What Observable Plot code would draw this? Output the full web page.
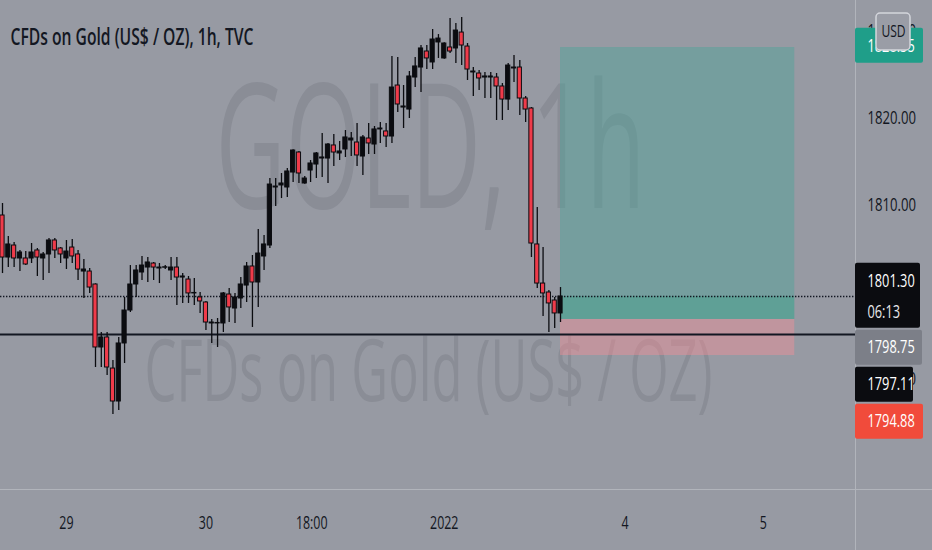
<!DOCTYPE html>
<html>
<head>
<meta charset="utf-8">
<script src="https://cdn.jsdelivr.net/npm/d3@7"></script>
<script src="https://cdn.jsdelivr.net/npm/@observablehq/plot@0.6"></script>
<style>
  html, body { margin: 0; padding: 0; background: #979aa3; }
  #chart svg { display: block; }
</style>
</head>
<body>
<div id="chart"></div>
<script>
// ---------------- data (hourly candles, TVC:GOLD) ----------------
const opens = [1808.85,1804.02,1805.40,1803.91,1803.91,1803.91,1804.83,1803.91,1804.37,1805.98,
1805.06,1803.91,1805.17,1804.37,1802.41,1802.41,1800.92,1793.68,1794.83,1791.26,
1787.47,1794.14,1797.93,1800.92,1802.30,1802.87,1803.33,1802.76,1802.85,1802.53,
1802.87,1801.72,1801.49,1799.89,1799.43,1798.85,1796.44,1796.44,1796.44,1799.77,
1798.16,1799.31,1800.80,1802.99,1801.15,1804.14,1805.40,1812.07,1812.30,1812.07,
1813.79,1816.09,1812.53,1814.02,1814.71,1815.40,1815.40,1816.90,1815.98,1816.44,
1817.47,1817.24,1815.63,1817.70,1817.01,1818.74,1818.51,1817.93,1823.79,1821.26,
1821.03,1824.71,1825.86,1827.70,1826.44,1828.74,1826.90,1828.16,1828.05,1829.88,
1828.27,1825.29,1825.17,1824.71,1824.71,1824.71,1823.68,1822.18,1825.75,1825.86,
1822.30,1821.15,1805.52,1801.03,1800.00,1799.08,1797.59];
const highs = [1810.23,1806.43,1805.75,1804.83,1804.71,1805.63,1805.06,1804.60,1806.20,1806.20,
1805.17,1805.98,1806.09,1804.83,1803.79,1802.76,1801.00,1795.40,1795.40,1792.18,
1794.83,1799.43,1803.10,1803.10,1804.14,1804.02,1803.45,1803.33,1803.10,1804.02,
1804.02,1802.18,1801.84,1801.61,1800.00,1798.97,1796.90,1797.01,1800.00,1800.46,
1799.89,1801.72,1803.45,1804.25,1807.24,1806.55,1813.10,1813.10,1813.68,1814.25,
1816.40,1816.20,1813.33,1815.17,1816.09,1818.28,1817.13,1818.16,1817.36,1818.62,
1818.39,1819.43,1818.05,1819.43,1819.08,1819.54,1819.43,1827.13,1827.01,1823.79,
1825.40,1827.01,1828.39,1828.39,1830.23,1829.65,1828.70,1831.49,1830.92,1831.61,
1828.62,1825.86,1825.52,1825.29,1825.29,1825.17,1824.02,1826.32,1827.24,1826.67,
1822.53,1821.26,1809.77,1805.17,1800.23,1799.43,1800.57];
const lows = [1802.18,1802.87,1802.87,1802.41,1803.10,1803.33,1801.84,1801.38,1802.18,1803.91,
1803.33,1802.64,1803.33,1801.38,1799.31,1799.89,1791.38,1791.38,1790.46,1785.98,
1786.44,1791.84,1797.70,1799.43,1801.38,1801.15,1801.38,1801.03,1802.64,1801.38,
1798.51,1798.74,1798.74,1798.51,1797.59,1795.63,1794.14,1793.68,1795.40,1796.55,
1796.44,1798.16,1798.85,1795.98,1798.28,1802.53,1805.06,1809.89,1810.80,1810.92,
1812.64,1812.53,1812.45,1812.64,1813.10,1813.22,1812.53,1814.48,1815.17,1815.52,
1815.63,1814.48,1813.45,1815.86,1815.86,1817.13,1816.67,1817.13,1820.69,1818.85,
1820.00,1823.56,1822.99,1825.63,1825.63,1826.90,1826.80,1827.47,1826.32,1826.09,
1824.37,1822.53,1823.22,1822.30,1822.30,1819.77,1819.77,1820.92,1824.14,1820.34,
1819.54,1804.02,1800.46,1797.24,1795.40,1795.86,1796.55];
const closes = [1804.02,1805.52,1803.91,1804.60,1803.22,1804.60,1804.02,1804.37,1805.98,1804.83,
1804.37,1804.71,1804.14,1802.64,1802.64,1800.57,1793.68,1794.83,1791.38,1787.47,
1794.14,1797.93,1800.92,1802.53,1803.10,1803.45,1802.87,1802.87,1802.90,1802.87,
1801.72,1801.84,1799.89,1799.95,1798.97,1796.55,1796.55,1796.50,1799.89,1798.28,
1799.43,1800.92,1802.99,1801.15,1804.48,1805.52,1812.41,1812.18,1812.53,1813.91,
1816.32,1813.68,1813.10,1814.83,1815.98,1815.52,1817.01,1816.09,1816.21,1817.82,
1817.70,1815.75,1817.82,1817.13,1818.74,1818.85,1817.93,1823.56,1821.61,1821.38,
1824.83,1825.98,1828.05,1826.90,1829.08,1829.19,1828.62,1827.70,1830.11,1828.39,
1825.63,1825.40,1824.60,1824.83,1824.83,1823.68,1822.18,1826.09,1825.86,1822.30,
1821.03,1805.63,1801.03,1799.89,1798.74,1797.59,1799.54];

const xTickBars   = [11, 35, 53.2, 76, 107.1, 130.9];
const xTickLabels = ["29", "30", "18:00", "2022", "4", "5"];
const yTicks = [1790, 1800, 1810, 1820, 1830];

const currentPrice = 1799.54;
const levelLine = 1795.17;
const positionTool = [{start: 96, end: 136.3, target: 1828.16, entry: 1796.90, stop: 1792.76}];

const titleText = "CFDs on Gold (US$ / OZ), 1h, TVC";
const watermarkMain = "GOLD, 1h";
const watermarkSub = "CFDs on Gold (US$ / OZ)";
const targetLabel = "1828.35", targetLabelValue = 1828.35;
const lastPriceLabel = "1801.30", lastPriceValue = 1801.30, countdownLabel = "06:13";
const stackedLabels = ["1798.75", "1797.11", "1794.88"];
const currencyLabel = "USD";

// ---------------- layout ----------------
const W = 932, H = 550, MR = 77, MB = 61;
const frameRight = W - MR, frameBottom = H - MB;
const xDomain = [-0.344, 146.75];
const yDomain = [1777.356, 1833.563];
const xs = Plot.scale({x: {domain: xDomain, range: [0, frameRight]}});
const ys = Plot.scale({y: {domain: yDomain, range: [frameBottom, 0]}});
const ink = "#131722";
const candleInk = "#0b0c10";
const bear = "#ef3b4a";

const candles = opens.map((o, i) => ({i, o, h: highs[i], l: lows[i], c: closes[i]}));

// price tags on the right scale (TradingView stacks them to avoid overlap)
const tags = [];
{
  const tc = ys.apply(targetLabelValue);
  tags.push({text: targetLabel, top: tc - 17.5, bottom: tc + 17.5, w: 68, fill: "#1f9e89", ty: tc});
  const c0 = ys.apply(lastPriceValue);
  tags.push({text: lastPriceLabel, top: c0 - 18, bottom: c0 + 47, w: 65, fill: candleInk, ty: c0, sub: countdownLabel});
  let prev = c0 + 47;
  const widths = [67, 58, 68], fills = ["#7c7f88", candleInk, "#f14b3b"];
  stackedLabels.forEach((t, k) => {
    const top = prev + 2, bottom = top + 35;
    tags.push({text: t, top, bottom, w: widths[k], fill: fills[k], ty: (top + bottom) / 2});
    prev = bottom;
  });
}
const tagLeft = xs.invert(frameRight), tagTextX = xs.invert(frameRight + 12);
const usd = [{x1: xs.invert(876), x2: xs.invert(910), y1: ys.invert(50), y2: ys.invert(13), cx: xs.invert(893), cy: ys.invert(31)}];

const plot = Plot.plot({
  width: W, height: H,
  marginLeft: 0, marginRight: MR, marginTop: 0, marginBottom: MB,
  x: {domain: xDomain},
  y: {domain: yDomain},
  style: {background: "#979aa3", fontFamily: "'Open Sans', sans-serif", color: ink},
  marks: [
    // watermark
    Plot.text([watermarkMain], {text: d => d, frameAnchor: "top", dx: 2.5, dy: 151, lineAnchor: "middle", fontSize: 175, fill: "#8a8d96"}),
    Plot.text([watermarkSub], {text: d => d, frameAnchor: "top", dx: 0.5, dy: 372.5, lineAnchor: "middle", fontSize: 86, fill: "#8a8d96"}),
    // long position tool
    Plot.rect(positionTool, {x1: "start", x2: "end", y1: "entry", y2: "target", fill: "#4ba398", fillOpacity: 0.45}),
    Plot.rect(positionTool, {x1: "start", x2: "end", y1: "entry", y2: () => currentPrice, fill: "#3ea38a", fillOpacity: 0.4}),
    Plot.rect(positionTool, {x1: "start", x2: "end", y1: "stop", y2: "entry", fill: "#ff8f96", fillOpacity: 0.4}),
    // title
    Plot.text([titleText], {text: d => d, frameAnchor: "top-left", dx: 10, dy: 37, lineAnchor: "middle", textAnchor: "start", fontSize: 24, fontWeight: 600, fill: ink}),
    // price axis
    Plot.axisY(yTicks, {anchor: "right", tickSize: 0, tickPadding: 12, tickFormat: d => d.toFixed(2), fontSize: 18.5, fill: ink, label: null}),
    // separators
    Plot.ruleX([xDomain[1]], {y1: ys.invert(H), y2: yDomain[1], stroke: "#b1b4bb", strokeWidth: 1}),
    Plot.ruleY([yDomain[0]], {x1: xDomain[0], x2: xs.invert(W), stroke: "#b1b4bb", strokeWidth: 1.2}),
    // horizontal lines
    Plot.ruleY([levelLine], {stroke: ink, strokeWidth: 2}),
    Plot.ruleY([currentPrice], {stroke: ink, strokeWidth: 1.5, strokeDasharray: "1.4,1.6"}),
    // candles
    Plot.ruleX(candles, {x: "i", y1: "l", y2: "h", stroke: candleInk, strokeWidth: 1.3}),
    Plot.rect(candles, {filter: d => d.c >= d.o, x1: d => d.i - 0.36, x2: d => d.i + 0.36, y1: "o", y2: "c", fill: candleInk, stroke: candleInk, strokeWidth: 1}),
    Plot.rect(candles, {filter: d => d.c < d.o, x1: d => d.i - 0.36, x2: d => d.i + 0.36, y1: "o", y2: "c", fill: bear, stroke: candleInk, strokeWidth: 1}),
    // price tags
    Plot.rect(tags, {x1: () => tagLeft, x2: d => xs.invert(frameRight + d.w), y1: d => ys.invert(d.top), y2: d => ys.invert(d.bottom), fill: d => d.fill, rx: 2}),
    Plot.text(tags, {x: () => tagTextX, y: d => ys.invert(d.ty), text: "text", textAnchor: "start", fontSize: 18, fill: "white"}),
    Plot.text(tags.filter(d => d.sub), {x: () => tagTextX, y: d => ys.invert(d.ty + 31), text: "sub", textAnchor: "start", fontSize: 18, fill: "#e8e9ec"}),
    // currency button
    Plot.rect(usd, {x1: "x1", x2: "x2", y1: "y1", y2: "y2", fill: "#9a9da6", stroke: "#d4d6dc", strokeWidth: 1.5, rx: 4}),
    Plot.text(usd, {x: "cx", y: "cy", text: () => currencyLabel, fontSize: 17, fill: ink}),
    // time axis
    Plot.axisX(xTickBars, {tickSize: 0, tickPadding: 27, tickFormat: d => xTickLabels[xTickBars.indexOf(d)], fontSize: 17.5, fill: ink, label: null})
  ]
});

document.getElementById("chart").append(plot);

// the source screenshot is horizontally squeezed: condense glyphs to match
const targetWidths = new Map([[titleText, 243], [watermarkMain, 430], [watermarkSub, 568]]);
plot.querySelectorAll("text").forEach(t => {
  const s = t.textContent;
  const natural = t.getComputedTextLength();
  if (!natural) return;
  const w = targetWidths.has(s) ? targetWidths.get(s) : natural * 0.71;
  t.setAttribute("textLength", w);
  t.setAttribute("lengthAdjust", "spacingAndGlyphs");
});
</script>
</body>
</html>
